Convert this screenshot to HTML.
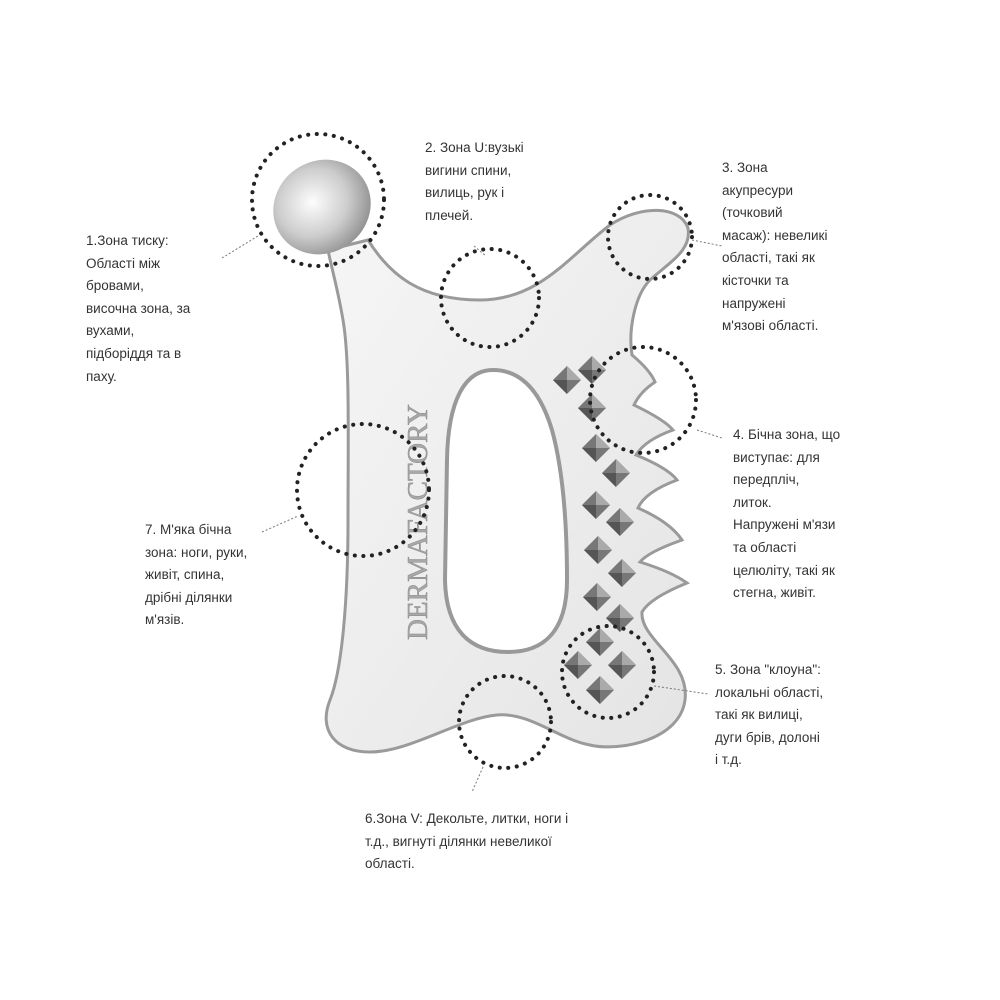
<!DOCTYPE html>
<html><head><meta charset="utf-8"><style>
html,body{margin:0;padding:0;background:#fff}
.t{position:absolute;font-family:"Liberation Sans","DejaVu Sans",sans-serif;font-size:13.5px;line-height:22.6px;color:#333;white-space:nowrap}
</style></head><body>
<div style="position:relative;width:1000px;height:1000px;overflow:hidden">
<svg width="1000" height="1000" style="position:absolute;left:0;top:0">
<defs>
<linearGradient id="g" x1="0" y1="0" x2="1" y2="1"><stop offset="0" stop-color="#f6f6f6"/><stop offset="1" stop-color="#e4e4e4"/></linearGradient>
<radialGradient id="b" cx="0.45" cy="0.4" r="0.65"><stop offset="0" stop-color="#fdfdfd"/><stop offset="0.55" stop-color="#cdcdcd"/><stop offset="1" stop-color="#8a8a8a"/></radialGradient>
</defs>
<path d="M368 240 C390 275,420 300,480 300 C540 300,570 255,610 225 C640 205,680 205,688 228 C692 250,670 262,650 280 C635 295,628 330,632 355 Q650 370,655 382 Q640 392,634 405 Q665 420,673 430 Q645 440,636 455 Q668 468,677 480 Q645 492,638 508 Q670 522,682 540 Q648 552,640 562 Q672 572,687 583 Q650 598,642 612 C640 640,690 660,685 700 C680 740,620 752,590 745 C560 740,530 712,497 715 C460 718,410 752,370 752 C335 752,318 730,330 700 C342 670,348 600,348 520 C348 440,350 360,343 320 C338 290,332 270,328 250 Z" fill="url(#g)" stroke="#9a9a9a" stroke-width="3"/>
<path d="M493 370 C520 370,540 390,552 430 C563 470,567 520,567 580 C567 630,545 652,508 652 C470 652,446 630,445 580 L447 460 C448 400,465 370,493 370 Z" fill="#fff" stroke="#999" stroke-width="4"/>
<ellipse cx="322" cy="207" rx="50" ry="46" transform="rotate(-35 322 207)" fill="url(#b)"/>
<text x="0" y="0" transform="translate(427 640) rotate(-90)" font-family="Liberation Serif,serif" font-size="29" fill="#a8a8a8" stroke="#888" stroke-width="0.5">DERMAFACTORY</text>
<g>
<g transform="translate(567 380)"><path d="M0 -14 L14 0 L0 14 L-14 0Z" fill="#777"/><path d="M0 -14 L14 0 L0 0Z" fill="#aaa"/><path d="M-14 0 L0 14 L0 0Z" fill="#555"/></g>
<g transform="translate(592 370)"><path d="M0 -14 L14 0 L0 14 L-14 0Z" fill="#777"/><path d="M0 -14 L14 0 L0 0Z" fill="#aaa"/><path d="M-14 0 L0 14 L0 0Z" fill="#555"/></g>
<g transform="translate(592 408)"><path d="M0 -14 L14 0 L0 14 L-14 0Z" fill="#777"/><path d="M0 -14 L14 0 L0 0Z" fill="#aaa"/><path d="M-14 0 L0 14 L0 0Z" fill="#555"/></g>
<g transform="translate(596 448)"><path d="M0 -14 L14 0 L0 14 L-14 0Z" fill="#777"/><path d="M0 -14 L14 0 L0 0Z" fill="#aaa"/><path d="M-14 0 L0 14 L0 0Z" fill="#555"/></g>
<g transform="translate(616 473)"><path d="M0 -14 L14 0 L0 14 L-14 0Z" fill="#777"/><path d="M0 -14 L14 0 L0 0Z" fill="#aaa"/><path d="M-14 0 L0 14 L0 0Z" fill="#555"/></g>
<g transform="translate(596 505)"><path d="M0 -14 L14 0 L0 14 L-14 0Z" fill="#777"/><path d="M0 -14 L14 0 L0 0Z" fill="#aaa"/><path d="M-14 0 L0 14 L0 0Z" fill="#555"/></g>
<g transform="translate(620 522)"><path d="M0 -14 L14 0 L0 14 L-14 0Z" fill="#777"/><path d="M0 -14 L14 0 L0 0Z" fill="#aaa"/><path d="M-14 0 L0 14 L0 0Z" fill="#555"/></g>
<g transform="translate(598 550)"><path d="M0 -14 L14 0 L0 14 L-14 0Z" fill="#777"/><path d="M0 -14 L14 0 L0 0Z" fill="#aaa"/><path d="M-14 0 L0 14 L0 0Z" fill="#555"/></g>
<g transform="translate(622 573)"><path d="M0 -14 L14 0 L0 14 L-14 0Z" fill="#777"/><path d="M0 -14 L14 0 L0 0Z" fill="#aaa"/><path d="M-14 0 L0 14 L0 0Z" fill="#555"/></g>
<g transform="translate(597 597)"><path d="M0 -14 L14 0 L0 14 L-14 0Z" fill="#777"/><path d="M0 -14 L14 0 L0 0Z" fill="#aaa"/><path d="M-14 0 L0 14 L0 0Z" fill="#555"/></g>
<g transform="translate(620 618)"><path d="M0 -14 L14 0 L0 14 L-14 0Z" fill="#777"/><path d="M0 -14 L14 0 L0 0Z" fill="#aaa"/><path d="M-14 0 L0 14 L0 0Z" fill="#555"/></g>
<g transform="translate(600 642)"><path d="M0 -14 L14 0 L0 14 L-14 0Z" fill="#777"/><path d="M0 -14 L14 0 L0 0Z" fill="#aaa"/><path d="M-14 0 L0 14 L0 0Z" fill="#555"/></g>
<g transform="translate(578 665)"><path d="M0 -14 L14 0 L0 14 L-14 0Z" fill="#777"/><path d="M0 -14 L14 0 L0 0Z" fill="#aaa"/><path d="M-14 0 L0 14 L0 0Z" fill="#555"/></g>
<g transform="translate(622 665)"><path d="M0 -14 L14 0 L0 14 L-14 0Z" fill="#777"/><path d="M0 -14 L14 0 L0 0Z" fill="#aaa"/><path d="M-14 0 L0 14 L0 0Z" fill="#555"/></g>
<g transform="translate(600 690)"><path d="M0 -14 L14 0 L0 14 L-14 0Z" fill="#777"/><path d="M0 -14 L14 0 L0 0Z" fill="#aaa"/><path d="M-14 0 L0 14 L0 0Z" fill="#555"/></g>
</g>
<g fill="none" stroke="#222" stroke-width="4" stroke-dasharray="0.1 8.5" stroke-linecap="round">
<circle cx="318" cy="200" r="66"/>
<circle cx="490" cy="298" r="49"/>
<circle cx="650" cy="237" r="42"/>
<circle cx="643" cy="400" r="53"/>
<circle cx="363" cy="490" r="66"/>
<circle cx="608" cy="672" r="46"/>
<circle cx="505" cy="722" r="46"/>
</g>
<g fill="none" stroke="#777" stroke-width="1" stroke-dasharray="2 2">
<line x1="222" y1="258" x2="258" y2="236"/>
<line x1="474" y1="246" x2="486" y2="256"/>
<line x1="692" y1="240" x2="722" y2="246"/>
<line x1="697" y1="430" x2="722" y2="438"/>
<line x1="262" y1="532" x2="298" y2="516"/>
<line x1="654" y1="686" x2="708" y2="694"/>
<line x1="483" y1="767" x2="472" y2="792"/>
</g>
</svg>
<div class="t" style="left:86px;top:230px">1.Зона тиску:<br>Області між<br>бровами,<br>височна зона, за<br>вухами,<br>підборіддя та в<br>паху.</div>
<div class="t" style="left:425px;top:137px">2. Зона U:вузькі<br>вигини спини,<br>вилиць, рук і<br>плечей.</div>
<div class="t" style="left:722px;top:157px">3. Зона<br>акупресури<br>(точковий<br>масаж): невеликі<br>області, такі як<br>кісточки та<br>напружені<br>м'язові області.</div>
<div class="t" style="left:733px;top:424px">4. Бічна зона, що<br>виступає: для<br>передпліч,<br>литок.<br>Напружені м'язи<br>та області<br>целюліту, такі як<br>стегна, живіт.</div>
<div class="t" style="left:145px;top:519px">7. М'яка бічна<br>зона: ноги, руки,<br>живіт, спина,<br>дрібні ділянки<br>м'язів.</div>
<div class="t" style="left:715px;top:659px">5. Зона "клоуна":<br>локальні області,<br>такі як вилиці,<br>дуги брів, долоні<br>і т.д.</div>
<div class="t" style="left:365px;top:808px">6.Зона V: Декольте, литки, ноги і<br>т.д., вигнуті ділянки невеликої<br>області.</div>
</div>
</body></html>
